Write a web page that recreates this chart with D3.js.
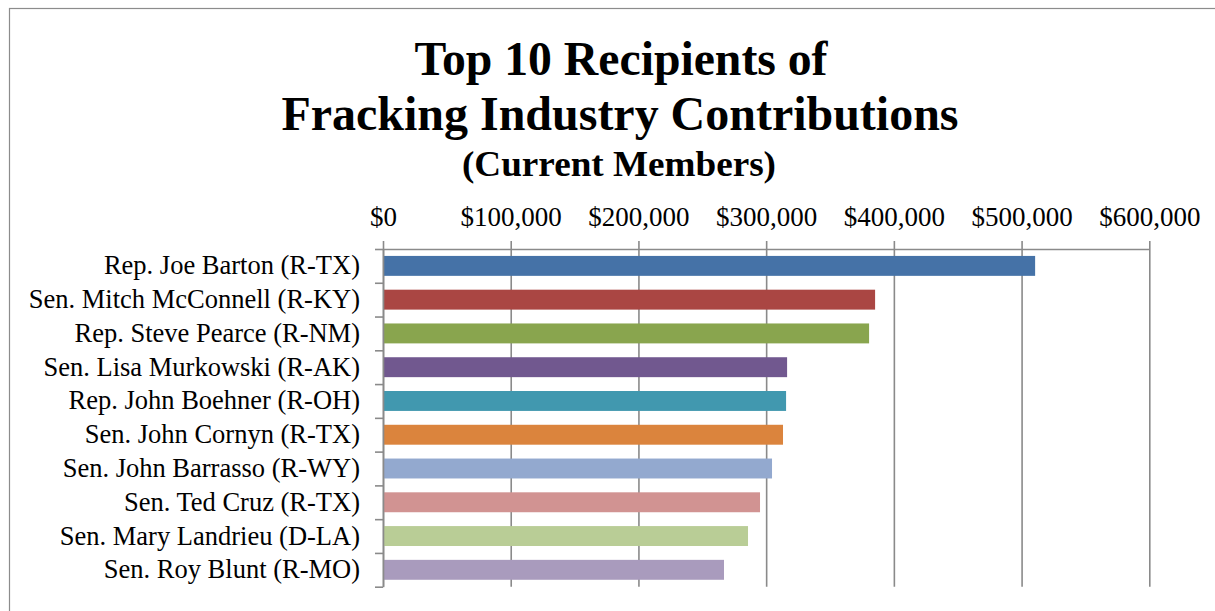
<!DOCTYPE html>
<html>
<head>
<meta charset="utf-8">
<script src="https://cdn.jsdelivr.net/npm/d3@7"></script>
<style>
  body { margin: 0; background: #fff; }
  svg { display: block; font-family: "Liberation Serif", "Times New Roman", serif; }
</style>
</head>
<body>
<svg id="chart" width="1215" height="611"></svg>
<script>
// data
const recipients = [
  "Rep. Joe Barton (R-TX)",
  "Sen. Mitch McConnell (R-KY)",
  "Rep. Steve Pearce (R-NM)",
  "Sen. Lisa Murkowski (R-AK)",
  "Rep. John Boehner (R-OH)",
  "Sen. John Cornyn (R-TX)",
  "Sen. John Barrasso (R-WY)",
  "Sen. Ted Cruz (R-TX)",
  "Sen. Mary Landrieu (D-LA)",
  "Sen. Roy Blunt (R-MO)"
];
const contributions = [510600, 385300, 380600, 316400, 315600, 313200, 304600, 295200, 285800, 267000];
const barColors = ["#4572A7", "#AA4643", "#89A54E", "#71588F", "#4198AF",
                   "#DB843D", "#93A9CF", "#D19392", "#B9CD96", "#A99BBD"];
const xTicks = [0, 100000, 200000, 300000, 400000, 500000, 600000];
const titleLines = ["Top 10 Recipients of", "Fracking Industry Contributions"];
const subTitle = "(Current Members)";

const plot = {left: 383, right: 1149.3, top: 249, bottom: 586.7};
const gridColor = '#8a8a8a';

const svg = d3.select('#chart');

// outer chart border (cut off at right/bottom like the source)
svg.append('rect')
  .attr('x', 9.5).attr('y', 8.5)
  .attr('width', 1400).attr('height', 800)
  .attr('fill', 'none')
  .attr('stroke', '#8c8c8c')
  .attr('stroke-width', 1.2);

// Titles
const title = svg.append('g').attr('font-weight', 'bold').attr('text-anchor', 'middle');
title.append('text')
  .attr('x', 621).attr('y', 75)
  .attr('font-size', 48)
  .attr('textLength', 413).attr('lengthAdjust', 'spacingAndGlyphs')
  .text(titleLines[0]);
title.append('text')
  .attr('x', 620).attr('y', 130)
  .attr('font-size', 48)
  .attr('textLength', 677).attr('lengthAdjust', 'spacingAndGlyphs')
  .text(titleLines[1]);
title.append('text')
  .attr('x', 619).attr('y', 176)
  .attr('font-size', 36)
  .attr('textLength', 314).attr('lengthAdjust', 'spacingAndGlyphs')
  .text(subTitle);

// Scales
const x = d3.scaleLinear()
  .domain([0, 600000])
  .range([plot.left, plot.right]);
const y = d3.scaleBand()
  .domain(recipients)
  .range([plot.top, plot.bottom])
  .paddingInner(0.41)
  .paddingOuter(0.205);
// category slot boundaries for the left axis ticks
const ySlot = d3.scaleLinear()
  .domain([0, recipients.length])
  .range([plot.top, plot.bottom]);

// Gridlines
svg.append('g')
  .attr('transform', `translate(0,${plot.top})`)
  .call(d3.axisTop(x).tickValues(xTicks).tickSize(-(plot.bottom - plot.top)).tickFormat(''))
  .call(g => g.select('.domain').remove())
  .selectAll('line')
    .attr('stroke', gridColor)
    .attr('stroke-width', 1.6);

// Bars
svg.append('g')
  .selectAll('rect')
  .data(contributions)
  .join('rect')
    .attr('x', x(0))
    .attr('y', (d, i) => y(recipients[i]))
    .attr('width', d => x(d) - x(0))
    .attr('height', y.bandwidth())
    .attr('fill', (d, i) => barColors[i]);

// Top axis
const xAxis = svg.append('g')
  .attr('transform', `translate(0,${plot.top})`)
  .call(d3.axisTop(x).tickValues(xTicks).tickSizeInner(8).tickSizeOuter(0)
    .tickPadding(15).tickFormat(d3.format('$,')));
xAxis.select('.domain').attr('stroke', gridColor).attr('stroke-width', 1.6);
xAxis.selectAll('line').attr('stroke', gridColor).attr('stroke-width', 1.6);
xAxis.selectAll('text')
  .attr('fill', '#000')
  .attr('font-size', 27)
  .attr('font-family', '"Liberation Serif", serif');

// Left axis
const yAxis = svg.append('g')
  .attr('transform', `translate(${plot.left},0)`)
  .call(d3.axisLeft(ySlot).tickValues(d3.range(recipients.length + 1))
    .tickSizeInner(8).tickSizeOuter(0).tickFormat(''));
yAxis.select('.domain').attr('stroke', gridColor).attr('stroke-width', 1.6);
yAxis.selectAll('line').attr('stroke', gridColor).attr('stroke-width', 1.6);

// Category labels
svg.append('g')
  .selectAll('text')
  .data(recipients)
  .join('text')
    .attr('x', 360)
    .attr('y', d => y(d) + y.bandwidth() / 2)
    .attr('dy', '0.32em')
    .attr('text-anchor', 'end')
    .attr('font-size', 26.5)
    .attr('fill', '#000')
    .text(d => d);
</script>
</body>
</html>
